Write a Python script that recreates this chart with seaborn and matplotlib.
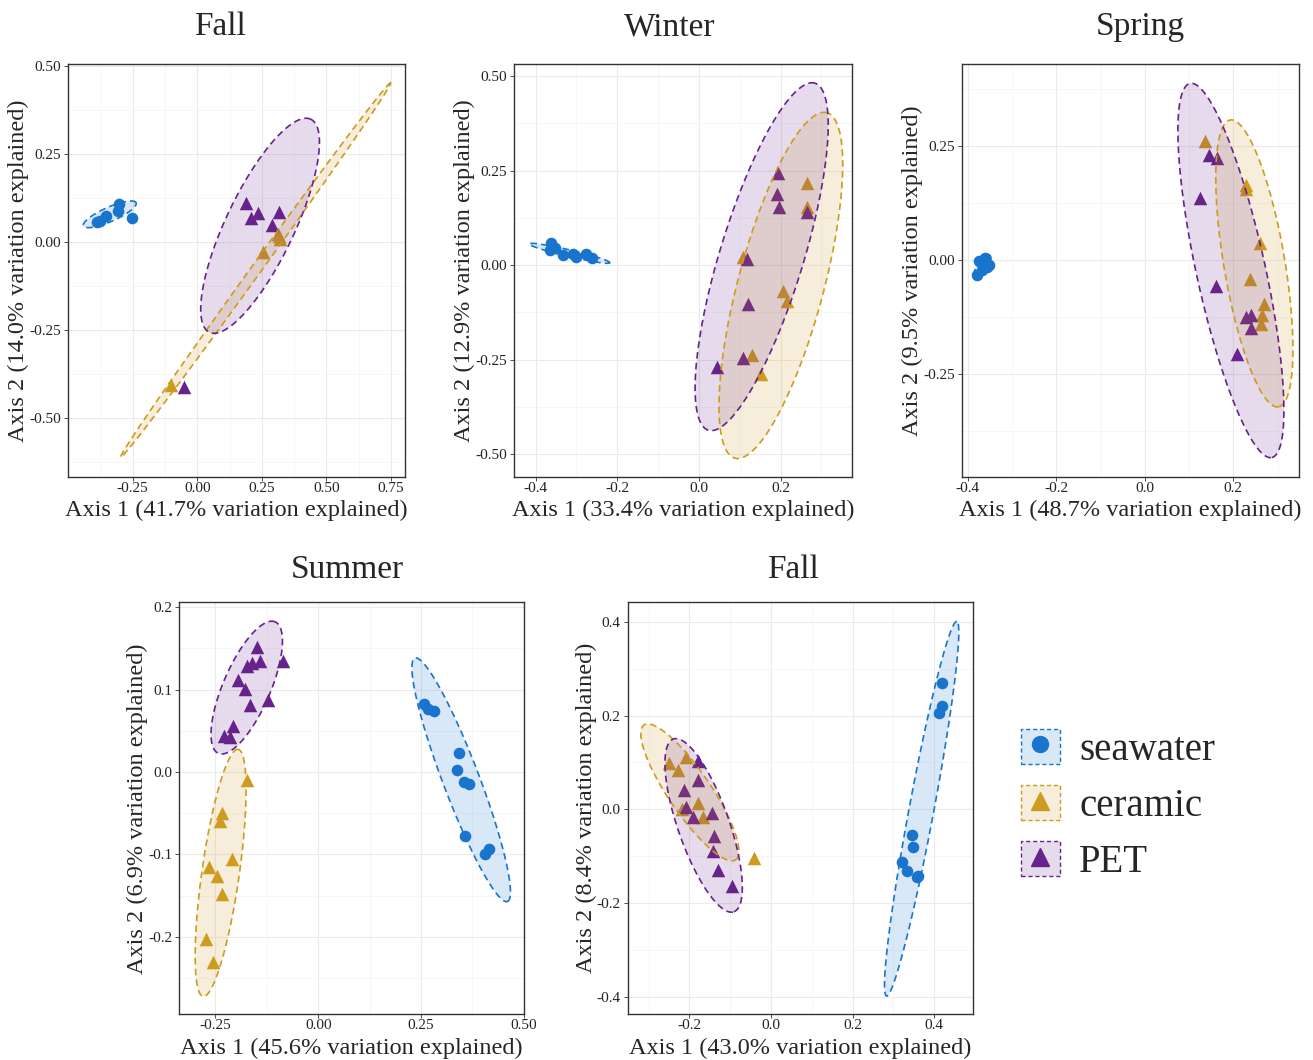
import numpy as np
import pandas as pd
import matplotlib
matplotlib.use("Agg")
import matplotlib.pyplot as plt
import seaborn as sns
from matplotlib.patches import Patch
from matplotlib.lines import Line2D
from matplotlib.legend_handler import HandlerTuple
from matplotlib.ticker import AutoMinorLocator, FormatStrFormatter

W, H = 1313, 1060

groups = ["seawater", "ceramic", "PET"]
colors = {"seawater": "#1874CD", "ceramic": "#CD9B1D", "PET": "#68228B"}
markers = {"seawater": "o", "ceramic": "^", "PET": "^"}

# ---- panel 1: Fall (first year)
fall1_sea_x = [-0.377, -0.390, -0.353, -0.309, -0.304, -0.254]
fall1_sea_y = [0.061, 0.058, 0.074, 0.089, 0.108, 0.068]
fall1_cer_x = [-0.101, 0.256, 0.315, 0.321, 0.312]
fall1_cer_y = [-0.405, -0.029, 0.018, 0.008, 0.024]
fall1_pet_x = [0.188, 0.207, 0.237, 0.315, 0.291, -0.050]
fall1_pet_y = [0.110, 0.068, 0.082, 0.087, 0.049, -0.410]
# ellipses: long-axis end points (x1, y1, x2, y2) and width/length ratio
fall1_ell = {"seawater": [-0.441, 0.046, -0.237, 0.112, 0.25],
             "ceramic": [-0.297, -0.611, 0.750, 0.453, 0.022],
             "PET": [0.047, -0.256, 0.440, 0.349, 0.29]}

# ---- panel 2: Winter
winter_sea_x = [-0.363, -0.365, -0.353, -0.334, -0.308, -0.300, -0.277, -0.263]
winter_sea_y = [0.057, 0.041, 0.044, 0.026, 0.029, 0.022, 0.029, 0.018]
winter_cer_x = [0.264, 0.264, 0.109, 0.205, 0.215, 0.131, 0.153]
winter_cer_y = [0.218, 0.154, 0.022, -0.068, -0.094, -0.238, -0.288]
winter_pet_x = [0.194, 0.192, 0.197, 0.264, 0.117, 0.121, 0.109, 0.043]
winter_pet_y = [0.244, 0.188, 0.154, 0.141, 0.015, -0.103, -0.247, -0.271]
winter_ell = {"seawater": [-0.416, 0.056, -0.218, 0.006, 0.08],
              "ceramic": [0.088, -0.511, 0.313, 0.403, 0.24],
              "PET": [0.023, -0.437, 0.284, 0.481, 0.23]}

# ---- panel 3: Spring
spring_sea_x = [-0.374, -0.361, -0.357, -0.368, -0.378, -0.353, -0.365]
spring_sea_y = [-0.002, 0.004, -0.015, -0.022, -0.033, -0.011, -0.007]
spring_cer_x = [0.136, 0.229, 0.229, 0.260, 0.238, 0.269, 0.264, 0.262]
spring_cer_y = [0.260, 0.164, 0.155, 0.038, -0.042, -0.096, -0.121, -0.140]
spring_pet_x = [0.146, 0.164, 0.125, 0.161, 0.209, 0.229, 0.239, 0.239]
spring_pet_y = [0.230, 0.223, 0.135, -0.057, -0.205, -0.124, -0.121, -0.150]
spring_ell = {"seawater": [-0.381, -0.036, -0.351, 0.011, 0.45],
              "ceramic": [0.193, 0.307, 0.302, -0.322, 0.21],
              "PET": [0.102, 0.387, 0.287, -0.433, 0.18]}

# ---- panel 4: Summer
summer_sea_x = [0.257, 0.268, 0.281, 0.343, 0.338, 0.354, 0.367, 0.357, 0.406, 0.414]
summer_sea_y = [0.083, 0.076, 0.074, 0.023, 0.002, -0.012, -0.014, -0.078, -0.099, -0.093]
summer_cer_x = [-0.174, -0.235, -0.238, -0.211, -0.265, -0.246, -0.233, -0.273, -0.255]
summer_cer_y = [-0.010, -0.050, -0.059, -0.106, -0.115, -0.126, -0.148, -0.202, -0.230]
summer_pet_x = [-0.150, -0.174, -0.161, -0.142, -0.195, -0.178, -0.165, -0.123,
                -0.207, -0.229, -0.215, -0.087]
summer_pet_y = [0.152, 0.128, 0.132, 0.134, 0.111, 0.101, 0.081, 0.087,
                0.056, 0.044, 0.043, 0.134]
summer_ell = {"seawater": [0.235, 0.138, 0.460, -0.157, 0.14],
              "ceramic": [-0.280, -0.272, -0.195, 0.0275, 0.15],
              "PET": [-0.243, 0.0226, -0.105, 0.182, 0.33]}

# ---- panel 5: Fall (second year)
fall2_sea_x = [0.420, 0.420, 0.412, 0.346, 0.349, 0.322, 0.334, 0.357, 0.361]
fall2_sea_y = [0.269, 0.221, 0.205, -0.056, -0.081, -0.112, -0.132, -0.145, -0.143]
fall2_cer_x = [-0.251, -0.208, -0.229, -0.178, -0.166, -0.042, -0.219]
fall2_cer_y = [0.098, 0.1125, 0.084, 0.013, -0.016, -0.105, 0.0]
fall2_pet_x = [-0.180, -0.178, -0.212, -0.208, -0.192, -0.145, -0.140, -0.141, -0.129, -0.096]
fall2_pet_y = [0.102, 0.063, 0.041, 0.004, -0.016, -0.0085, -0.058, -0.090, -0.130, -0.164]
fall2_ell = {"seawater": [0.283, -0.399, 0.455, 0.401, 0.065],
             "ceramic": [-0.311, 0.180, -0.0865, -0.108, 0.26],
             "PET": [-0.239, 0.150, -0.091, -0.219, 0.28]}

panels = [
    dict(title="Fall", xlab="Axis 1 (41.7% variation explained)",
         ylab="Axis 2 (14.0% variation explained)",
         pts={"seawater": (fall1_sea_x, fall1_sea_y), "ceramic": (fall1_cer_x, fall1_cer_y),
              "PET": (fall1_pet_x, fall1_pet_y)}, ell=fall1_ell,
         xlim=(-0.502, 0.805), ylim=(-0.666, 0.505),
         xt=[-0.25, 0.0, 0.25, 0.5, 0.75], yt=[-0.5, -0.25, 0.0, 0.25, 0.5],
         xf="%.2f", yf="%.2f", box=(67.7, 64.3, 405, 476.7), tpos=(220, 27)),
    dict(title="Winter", xlab="Axis 1 (33.4% variation explained)",
         ylab="Axis 2 (12.9% variation explained)",
         pts={"seawater": (winter_sea_x, winter_sea_y), "ceramic": (winter_cer_x, winter_cer_y),
              "PET": (winter_pet_x, winter_pet_y)}, ell=winter_ell,
         xlim=(-0.453, 0.374), ylim=(-0.560, 0.531),
         xt=[-0.4, -0.2, 0.0, 0.2], yt=[-0.5, -0.25, 0.0, 0.25, 0.5],
         xf="%.1f", yf="%.2f", box=(514, 64.3, 851.7, 476.7), tpos=(670, 27)),
    dict(title="Spring", xlab="Axis 1 (48.7% variation explained)",
         ylab="Axis 2 (9.5% variation explained)",
         pts={"seawater": (spring_sea_x, spring_sea_y), "ceramic": (spring_cer_x, spring_cer_y),
              "PET": (spring_pet_x, spring_pet_y)}, ell=spring_ell,
         xlim=(-0.4136, 0.349), ylim=(-0.475, 0.429),
         xt=[-0.4, -0.2, 0.0, 0.2], yt=[-0.25, 0.0, 0.25],
         xf="%.1f", yf="%.2f", box=(961.7, 64.3, 1299.3, 476.7), tpos=(1140, 27)),
    dict(title="Summer", xlab="Axis 1 (45.6% variation explained)",
         ylab="Axis 2 (6.9% variation explained)",
         pts={"seawater": (summer_sea_x, summer_sea_y), "ceramic": (summer_cer_x, summer_cer_y),
              "PET": (summer_pet_x, summer_pet_y)}, ell=summer_ell,
         xlim=(-0.338, 0.501), ylim=(-0.2937, 0.2057),
         xt=[-0.25, 0.0, 0.25, 0.5], yt=[-0.2, -0.1, 0.0, 0.1, 0.2],
         xf="%.2f", yf="%.1f", box=(179.3, 602.3, 524.3, 1014.3), tpos=(347, 570)),
    dict(title="Fall", xlab="Axis 1 (43.0% variation explained)",
         ylab="Axis 2 (8.4% variation explained)",
         pts={"seawater": (fall2_sea_x, fall2_sea_y), "ceramic": (fall2_cer_x, fall2_cer_y),
              "PET": (fall2_pet_x, fall2_pet_y)}, ell=fall2_ell,
         xlim=(-0.351, 0.4955), ylim=(-0.438, 0.442),
         xt=[-0.2, 0.0, 0.2, 0.4], yt=[-0.4, -0.2, 0.0, 0.2, 0.4],
         xf="%.1f", yf="%.1f", box=(627.7, 602.3, 973.3, 1014.3), tpos=(793, 570)),
]

sns.set_theme(style="white")
plt.rcParams["font.family"] = ["Liberation Serif", "DejaVu Serif"]
plt.rcParams["axes.unicode_minus"] = False


def draw_ellipse(ax, spec, color):
    """ellipse given by the two ends of its long axis (data units) and a width ratio"""
    x1, y1, x2, y2, ratio = spec
    tr = ax.transData
    a = tr.transform((x1, y1))
    b = tr.transform((x2, y2))
    c = (a + b) / 2
    u = (b - a) / 2
    v = np.array([-u[1], u[0]]) * ratio
    t = np.linspace(0, 2 * np.pi, 240)
    p = c + np.outer(np.cos(t), u) + np.outer(np.sin(t), v)
    d = tr.inverted().transform(p)
    ax.fill(d[:, 0], d[:, 1], facecolor=color, alpha=0.16, edgecolor="none", zorder=4)
    ax.plot(d[:, 0], d[:, 1], color=color, ls=(0, (4, 2.5)), lw=1.2, zorder=5)


fig = plt.figure(figsize=(W / 100, H / 100), dpi=100)

for p in panels:
    l, t, r, b = p["box"]
    ax = fig.add_axes([l / W, 1 - b / H, (r - l) / W, (b - t) / H])
    ax.set_xlim(*p["xlim"])
    ax.set_ylim(*p["ylim"])
    rows = []
    for g in groups:
        xs, ys = p["pts"][g]
        rows += [(g, x, y) for x, y in zip(xs, ys)]
    df = pd.DataFrame(rows, columns=["group", "x", "y"])
    for g in groups:
        sns.scatterplot(data=df[df.group == g], x="x", y="y", color=colors[g],
                        marker=markers[g], s=70 if g == "seawater" else 95,
                        linewidth=0, legend=False, ax=ax, zorder=3)
    for g in groups:
        draw_ellipse(ax, p["ell"][g], colors[g])

    ax.set_xticks(p["xt"])
    ax.set_yticks(p["yt"])
    ax.xaxis.set_major_formatter(FormatStrFormatter(p["xf"]))
    ax.yaxis.set_major_formatter(FormatStrFormatter(p["yf"]))
    ax.xaxis.set_minor_locator(AutoMinorLocator(2))
    ax.yaxis.set_minor_locator(AutoMinorLocator(2))
    ax.grid(True, which="major", color="#EBEBEB", lw=0.8)
    ax.grid(True, which="minor", color="#F3F3F3", lw=0.5)
    ax.set_axisbelow(True)
    ax.tick_params(which="major", length=3, width=0.6, color="#333333",
                   labelsize=11, labelcolor="#222222", pad=2, bottom=True, left=True)
    ax.tick_params(axis="x", which="major", pad=0.5)
    ax.tick_params(which="minor", length=0)
    for s in ax.spines.values():
        s.set_color("#333333")
        s.set_linewidth(1.0)
    ax.set_xlabel(p["xlab"], fontsize=17.5, labelpad=4)
    ax.set_ylabel(p["ylab"], fontsize=17.5, labelpad=0)
    fig.text(p["tpos"][0] / W, 1 - p["tpos"][1] / H, p["title"], fontsize=24,
             ha="center", va="center")

handles = []
for g in groups:
    box = Patch(facecolor=matplotlib.colors.to_rgba(colors[g], 0.16),
                edgecolor=colors[g], linestyle=(0, (3, 2)), linewidth=1.0)
    mk = Line2D([], [], marker=markers[g], color=colors[g], linestyle="none",
                markersize=11.5 if g == "seawater" else 12.5)
    handles.append((box, mk))
fig.legend(handles, groups, handler_map={tuple: HandlerTuple(ndivide=1, pad=0)},
           loc="center left", bbox_to_anchor=(1021 / W, 1 - 805 / H), frameon=False,
           borderaxespad=0, borderpad=0,
           fontsize=28, handlelength=1.0, handleheight=1.0, labelspacing=0.42,
           handletextpad=0.5)

plt.savefig("out.png", dpi=100)
